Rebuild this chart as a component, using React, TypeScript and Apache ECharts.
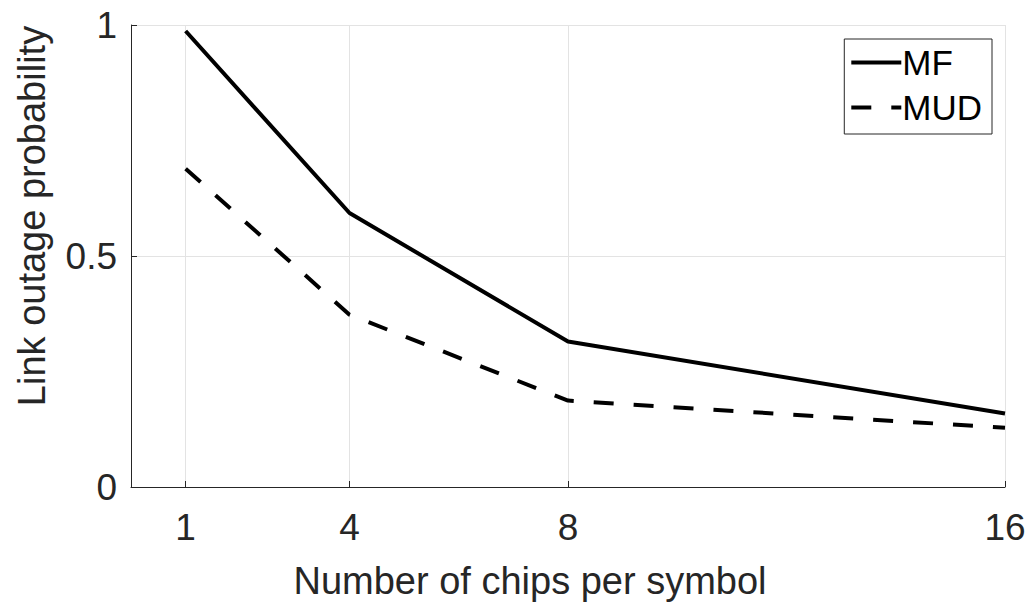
import React, { useEffect, useRef } from "react";
import * as echarts from "echarts";

// Spreading factor (chips per symbol) and outage probabilities
const chips = [1, 4, 8, 16];
const mfOutage = [0.987, 0.593, 0.315, 0.159];
const mudOutage = [0.689, 0.373, 0.187, 0.128];
const xTicks = [1, 4, 8, 16];

const FONT = "'Liberation Sans', Arial, Helvetica, sans-serif";
const AXIS_COLOR = "#262626";
const GRID_COLOR = "#e3e3e3";

export default function App() {
  const ref = useRef<HTMLDivElement>(null);

  useEffect(() => {
    if (!ref.current) return;
    const chart = echarts.init(ref.current, null, { renderer: "svg" });
    chart.setOption({
      animation: false,
      backgroundColor: "#ffffff",
      grid: { left: 131, right: 28, top: 25, bottom: 120, containLabel: false },
      legend: {
        right: 41,
        top: 39,
        orient: "vertical",
        itemWidth: 50,
        itemHeight: 14,
        itemGap: 10,
        padding: [6, 10, 9, 5],
        borderColor: AXIS_COLOR,
        borderWidth: 1,
        backgroundColor: "#ffffff",
        itemStyle: { opacity: 0 },
        lineStyle: { width: 4, color: "#000000" },
        textStyle: { fontFamily: FONT, fontSize: 35, color: "#000000", padding: [0, 0, 0, -4] },
        data: ["MF", "MUD"],
      },
      xAxis: {
        type: "value",
        min: 0,
        max: 16,
        name: "Number of chips per symbol",
        nameLocation: "middle",
        nameGap: 75,
        nameTextStyle: { fontFamily: FONT, fontSize: 38, color: AXIS_COLOR, padding: [0, 76, 0, 0] },
        axisLine: { show: true, lineStyle: { color: AXIS_COLOR, width: 1 } },
        axisTick: {
          show: true,
          inside: true,
          length: 6,
          customValues: xTicks,
          lineStyle: { color: AXIS_COLOR },
        },
        axisLabel: {
          customValues: xTicks,
          fontFamily: FONT,
          fontSize: 37,
          color: AXIS_COLOR,
          margin: 22,
        },
        splitLine: { show: true, lineStyle: { color: GRID_COLOR, width: 1 } },
      },
      yAxis: {
        type: "value",
        min: 0,
        max: 1,
        interval: 0.5,
        name: "Link outage probability",
        nameLocation: "middle",
        nameGap: 80,
        nameTextStyle: { fontFamily: FONT, fontSize: 38, color: AXIS_COLOR, padding: [0, 0, 0, 80] },
        axisLine: { show: true, lineStyle: { color: AXIS_COLOR, width: 1 } },
        axisTick: { show: true, inside: true, length: 6, lineStyle: { color: AXIS_COLOR } },
        axisLabel: {
          fontFamily: FONT,
          fontSize: 37,
          color: AXIS_COLOR,
          margin: 14,
          formatter: (v: number) => String(v),
        },
        splitLine: { show: true, lineStyle: { color: GRID_COLOR, width: 1 } },
      },
      series: [
        {
          name: "MF",
          type: "line",
          data: chips.map((c, i) => [c, mfOutage[i]]),
          showSymbol: false,
          symbol: "none",
          lineStyle: { color: "#000000", width: 4, type: "solid" },
          itemStyle: { color: "#000000" },
        },
        {
          name: "MUD",
          type: "line",
          data: chips.map((c, i) => [c, mudOutage[i]]),
          showSymbol: false,
          symbol: "none",
          lineStyle: { color: "#000000", width: 4, type: [20, 20] },
          itemStyle: { color: "#000000" },
        },
      ],
    });
    return () => chart.dispose();
  }, []);

  return <div ref={ref} style={{ width: 1033, height: 607, position: "absolute", left: 0, top: 0 }} />;
}
